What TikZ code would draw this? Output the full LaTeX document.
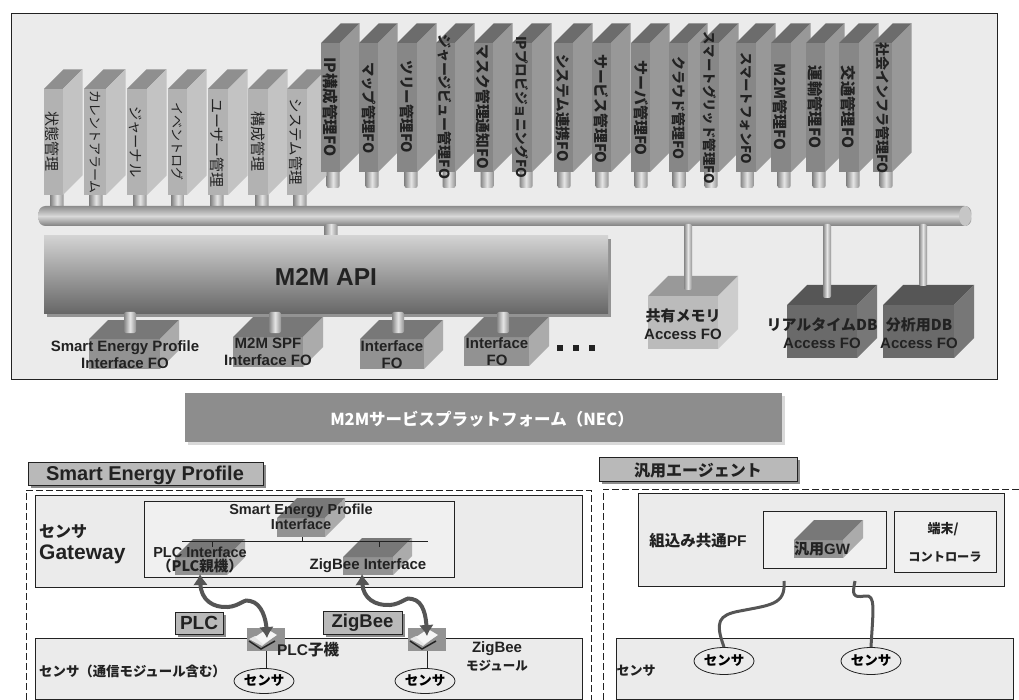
\documentclass[tikz,border=0pt]{standalone}
\usepackage{fontspec}
\setmainfont{Noto Sans CJK JP}
\newfontfamily\lat{Liberation Sans}
\usepackage{xcolor}
\usetikzlibrary{shapes, arrows.meta, positioning, calc, shadows}

\definecolor{ink}{HTML}{222222}
\definecolor{panelbg}{HTML}{EBEBEB}
\definecolor{bandbg}{HTML}{8D8D8D}
\definecolor{hiF}{HTML}{878787}
\definecolor{hiT}{HTML}{6C6C6C}
\definecolor{hiS}{HTML}{989898}
\definecolor{loF}{HTML}{B2B2B2}
\definecolor{loT}{HTML}{8F8F8F}
\definecolor{loS}{HTML}{C3C3C3}
\definecolor{midF}{HTML}{929292}
\definecolor{midT}{HTML}{787878}
\definecolor{midS}{HTML}{ABABAB}
\definecolor{palF}{HTML}{BBBBBB}
\definecolor{palT}{HTML}{999999}
\definecolor{palS}{HTML}{CDCDCD}
\definecolor{darkF}{HTML}{6A6A6A}
\definecolor{darkT}{HTML}{565656}
\definecolor{darkS}{HTML}{777777}
\definecolor{wire}{HTML}{555555}

% block: name, left, right, front top, bottom, depth, colour prefix
\newcommand{\fobox}[7]{
    \fill[#7F] (#2,#4) rectangle (#3,#5);
    \fill[#7T] (#2,#4) -- ++(#6,-#6) -- ++({#3-#2},0) -- (#3,#4) -- cycle;
    \fill[#7S] (#3,#4) -- ++(#6,-#6) -- ++(0,{#5-#4}) -- (#3,#5) -- cycle;
    \coordinate (#1) at ({(#2+#3)/2},#5);
}
% communication module on the sensor panel
\newcommand{\modbox}[2]{
    \fill[gray!85] (#2-19,628) rectangle (#2+19,651);
    \fill[gray!20] (#2-17,639) -- (#2-11,636) -- (#2+9,636) -- (#2-4,646) -- cycle;
    \fill[white!92!gray] (#2-11,637) -- (#2+1,629) -- (#2+11,635) -- (#2-3,644) -- cycle;
    \draw[ink, line width=1.5pt] (#2-17,641) -- (#2-5,649) -- (#2+9,641);
    \coordinate (#1) at (#2,651);
}

\begin{document}
\begin{tikzpicture}[
    x=1pt, y=-1pt,
    lbl/.style={font=\lat\bfseries\fontsize{15}{17}\selectfont, text=ink, align=center, inner sep=0pt},
    jplbl/.style={font=\bfseries\fontsize{14}{16}\selectfont, text=ink, align=center, inner sep=0pt},
    panel/.style={draw=ink, fill=panelbg, line width=0.8pt, inner sep=0pt},
    tag/.style={draw=ink, fill=gray!55, line width=0.8pt, inner sep=0pt,
        copy shadow={shadow xshift=3pt, shadow yshift=-3pt, fill=gray!90, draw=none}},
    sensor/.style={ellipse, draw=ink, fill=panelbg, line width=0.8pt, inner sep=0pt,
        minimum width=60pt, minimum height=25pt, font=\bfseries\fontsize{13.5}{14}\selectfont},
    stem/.style={left color=gray!95, right color=gray!85, middle color=gray!20, rounded corners=2pt},
    dashbox/.style={draw=ink, dash pattern=on 7pt off 3pt, line width=0.7pt},
    wave/.style={draw=wire, line width=3pt},
    link/.style={draw=wire, line width=4pt, {Latex[length=11pt,width=15pt]}-{Latex[length=11pt,width=15pt]}}
]
    \useasboundingbox (0,0) rectangle (1019,700);

    % Upper panel
    \node[panel, minimum width=986pt, minimum height=366pt] (spf) at (504,196) {};

    % Stems of the low and high blocks
    \foreach \sx in {57,96,140,178,217,262,300}
        \shade[stem] (\sx-6.5,190) rectangle (\sx+6.5,209);
    \foreach \sx in {333,372,411,449,487,526,564,602,641,679,711,747,784,819,853,886}
        \shade[stem] (\sx-6.5,165) rectangle (\sx+6.5,188);

    % Bus
    \node[draw=none, rounded corners=7pt, minimum width=933pt, minimum height=20pt, inner sep=0pt,
        top color=gray!90, bottom color=gray!100!black, middle color=gray!30] (bus) at (505,216) {};
    \fill[gray!45] (965,216) ellipse (6 and 10);

    % Low blocks
    \foreach \n/\xl/\xr/\tx/\ty/\fs/\lab in {
        la/44/63/52/142/15/状態管理,
        lb/84/106/95/142/13/カレントアラーム,
        lc/127/147/136/142/14.3/ジャーナル,
        ld/168/187/178/142/13/イベントログ,
        le/208/228/217/143/15/ユーザー管理,
        lf/248/268/258/142/15/構成管理,
        lg/287/307/296/142/14.5/システム管理}{
        \fobox{\n}{\xl}{\xr}{89}{195}{19.5}{lo}
        \node[rotate=-90, inner sep=0pt, text=ink, font=\fontsize{\fs}{\fs}\selectfont] (\n t) at (\tx,\ty) {\lab};
    }

    % High blocks
    \foreach \n/\xl/\xr/\tx/\ty/\fs/\lab in {
        ha/321/340/330/107/15.5/IP構成管理FO,
        hb/359/378/369/108/14.3/マップ管理FO,
        hc/397/417/407/107/14.5/ツリー管理FO,
        hd/436/455/445/107/14/ジャージビュー管理FO,
        he/474/493/483/107/14.8/マスク管理通知FO,
        hf/512/532/522/107/13.6/IPプロビジョニングFO,
        hg/554/573/563/108/14.6/システム連携FO,
        hh/592/611/601/109/14.8/サービス管理FO,
        hi/631/650/641/108/15/サーバ管理FO,
        hj/669/688/679/108/14/クラウド管理FO,
        hk/700/719/710/108/13.4/スマートグリッド管理FO,
        hl/736/756/746/108/13.4/スマートフォンFO,
        hm/771/791/780/107/15/M2M管理FO,
        hn/806/825/815/107/15.3/運輸管理FO,
        ho/839/859/848/107/15.3/交通管理FO,
        hp/873/892/883/108/14/社会インフラ管理FO}{
        \fobox{\n}{\xl}{\xr}{43}{172}{19.5}{hi}
        \node[rotate=-90, inner sep=0pt, text=ink, font=\bfseries\fontsize{\fs}{\fs}\selectfont] (\n t) at (\tx,\ty) {\lab};
    }

    % M2M API
    \shade[stem] (324.5,224) rectangle (337.5,238);
    \fill[gray!85] (47,239) rectangle (611,317);
    \node[top color=gray!35, bottom color=gray!80!black, minimum width=564pt, minimum height=78pt, inner sep=0pt] (api) at (326,275) {};
    \node[lbl, font=\lat\bfseries\fontsize{24.5}{26}\selectfont] (apit) at (326,277) {M2M API};

    % Interface blocks
    \fobox{ia}{89}{160}{339}{369}{19}{mid}
    \fobox{ib}{233}{303}{337}{367}{20}{mid}
    \fobox{ic}{360}{424}{339}{369}{19}{mid}
    \fobox{id}{464}{529}{337}{366}{20}{mid}
    \foreach \sx in {130,275,398,503}
        \shade[stem] (\sx-6,312) rectangle (\sx+6,333);
    \node[lbl] (iat) at (125,355) {Smart Energy Profile\\Interface FO};
    \node[lbl] (ibt) at (268,352) {M2M SPF\\Interface FO};
    \node[lbl] (ict) at (392,355) {Interface\\FO};
    \node[lbl] (idt) at (497,352) {Interface\\FO};
    \foreach \dx in {560,576,592}
        \fill[ink] (\dx-3,345) rectangle (\dx+3,351);

    % Access blocks
    \fobox{sa}{648}{718}{296}{349}{20}{pal}
    \fobox{ra}{787}{857}{305}{358}{20}{dark}
    \fobox{ba}{883}{954}{305}{358}{20}{dark}
    \shade[stem] (684,224) rectangle (692,290);
    \shade[stem] (823,224) rectangle (831,298);
    \shade[stem] (919,224) rectangle (927,286);
    \node[lbl, font=\lat\bfseries\fontsize{15}{18.5}\selectfont] (sat) at (683,324) {\rmfamily 共有メモリ\\\lat Access FO};
    \node[lbl, font=\lat\bfseries\fontsize{15}{18.5}\selectfont] (rat) at (822,333) {\rmfamily リアルタイムDB\\\lat Access FO};
    \node[lbl, font=\lat\bfseries\fontsize{15}{18.5}\selectfont] (bat) at (919,333) {\rmfamily 分析用DB\\\lat Access FO};

    % Platform band
    \node[minimum width=597pt, minimum height=49pt, inner sep=0pt, fill=bandbg,
        copy shadow={shadow xshift=3pt, shadow yshift=-3pt, fill=gray!30, draw=none}] (band) at (483,417.5) {};
    \node[text=white, inner sep=0pt, font=\bfseries\fontsize{16.5}{18}\selectfont] (bandt) at (482,419) {M2Mサービスプラットフォーム（NEC）};

    % Left side
    \node[tag, minimum width=235pt, minimum height=23pt] (sep) at (145.5,473.5) {};
    \node[lbl, font=\lat\bfseries\fontsize{20}{22}\selectfont] (sept) at (145,475) {Smart Energy Profile};
    \draw[dashbox] (26,700) -- (26,490) -- (591,490) -- (591,700);
    \node[panel, minimum width=547pt, minimum height=92pt] (gw) at (308.5,541) {};
    \node[jplbl, anchor=west, font=\bfseries\fontsize{16}{18}\selectfont] (gwa) at (39,532) {センサ};
    \node[lbl, anchor=west, font=\lat\bfseries\fontsize{21}{23}\selectfont] (gwb) at (39,554) {Gateway};
    \node[panel, fill=gray!12, minimum width=310pt, minimum height=76pt] (gwin) at (299,539) {};
    \fobox{sb}{277}{325}{518}{537}{20}{mid}
    \fobox{pb}{175}{227}{557}{575}{18}{mid}
    \fobox{zb}{343}{393}{557}{575}{19}{mid}
    \draw[ink, line width=0.8pt] (182,541) -- (428,541);
    \draw[ink] (302,537) -- (302,541) (212,541) -- (212,547) (379,541) -- (379,547);
    \node[lbl, font=\lat\bfseries\fontsize{14.5}{15}\selectfont] (sbt) at (301,517) {Smart Energy Profile\\Interface};
    \node[lbl, font=\lat\bfseries\fontsize{14.5}{14}\selectfont] (pbt) at (200,560) {PLC Interface\\\rmfamily（PLC親機）};
    \node[lbl, font=\lat\bfseries\fontsize{15}{15}\selectfont] (zbt) at (368,566) {ZigBee Interface};

    \node[panel, minimum width=547pt, minimum height=61pt] (sp) at (308.5,668.5) {};
    \modbox{pm}{266}
    \modbox{zm}{427}
    \node[sensor] (sa1) at (264,681) {センサ};
    \node[sensor] (sa2) at (425,681) {センサ};
    \draw[ink] (pm) -- (pm |- sa1.north);
    \draw[ink] (zm) -- (zm |- sa2.north);
    \node[jplbl, font=\bfseries\fontsize{15.5}{16}\selectfont] (pmt) at (308,650) {\lat PLC\rmfamily 子機};
    \node[lbl, font=\lat\bfseries\fontsize{15}{18}\selectfont] (zmt) at (497,656) {ZigBee\\\rmfamily\fontsize{12.5}{18}\selectfont モジュール};
    \node[jplbl, anchor=west, font=\bfseries\fontsize{13.4}{16}\selectfont] (spt) at (39,671) {センサ（通信モジュール含む）};

    % Links
    \coordinate (plcup) at (200,574);
    \coordinate (plcdn) at (267,638);
    \coordinate (zigup) at (362,574);
    \coordinate (zigdn) at (427,636);
    \draw[link] (plcup) .. controls (201,600) and (213,608) .. (228,607)
        .. controls (240,606) and (245,598) .. (250,601)
        .. controls (262,603) and (266,620) .. (plcdn);
    \draw[link] (zigup) .. controls (363,598) and (375,606) .. (390,605)
        .. controls (402,604) and (407,596) .. (412,599)
        .. controls (424,601) and (426,618) .. (zigdn);
    \node[tag, minimum width=48pt, minimum height=22pt, font=\lat\bfseries\fontsize{19}{20}\selectfont, text=ink] (plc) at (199,623) {PLC};
    \node[tag, minimum width=79pt, minimum height=23pt, font=\lat\bfseries\fontsize{18.5}{20}\selectfont, text=ink] (zig) at (362.5,622.5) {ZigBee};

    % Right side
    \node[tag, minimum width=198pt, minimum height=24pt] (agent) at (698,469) {};
    \node[jplbl, font=\bfseries\fontsize{16}{18}\selectfont] (agentt) at (698,470) {汎用エージェント};
    \draw[dashbox] (603,700) -- (603,489) -- (1019,489);
    \node[panel, minimum width=366pt, minimum height=93pt] (pf) at (821,539.5) {};
    \node[jplbl, font=\bfseries\fontsize{15.5}{16}\selectfont] (pft) at (698,541) {組込み共通\lat PF};
    \node[panel, fill=gray!12, minimum width=123pt, minimum height=57pt] (gwbox) at (824.5,539.5) {};
    \fobox{gb}{794}{843}{540}{558}{20}{mid}
    \node[jplbl, font=\bfseries\fontsize{15}{16}\selectfont] (gbt) at (822,549) {汎用\lat GW};
    \node[panel, fill=gray!12, minimum width=102pt, minimum height=61pt] (term) at (945,541.5) {};
    \node[jplbl, font=\bfseries\fontsize{13}{16}\selectfont] (terma) at (943,529) {端末/};
    \node[jplbl, font=\bfseries\fontsize{12.2}{16}\selectfont] (termb) at (945,557) {コントローラ};
    \node[panel, minimum width=397pt, minimum height=61pt] (sr) at (814.5,668.5) {};
    \node[jplbl, font=\bfseries\fontsize{13}{16}\selectfont] (srt) at (636,671) {センサ};
    \node[sensor, minimum height=27pt] (sb1) at (724,661) {センサ};
    \node[sensor, minimum height=27pt] (sb2) at (871,661) {センサ};
    \coordinate (gwl) at (784,581);
    \coordinate (gwr) at (855,581);
    \draw[wave] (gwl) .. controls (786,605) and (770,605) .. (740,611)
        .. controls (718,615) and (715,622) .. (sb1.north);
    \draw[wave] (gwr) .. controls (852,595) and (853,598) .. (865,596)
        .. controls (876,594) and (873,610) .. (sb2.north);
\end{tikzpicture}
\end{document}
